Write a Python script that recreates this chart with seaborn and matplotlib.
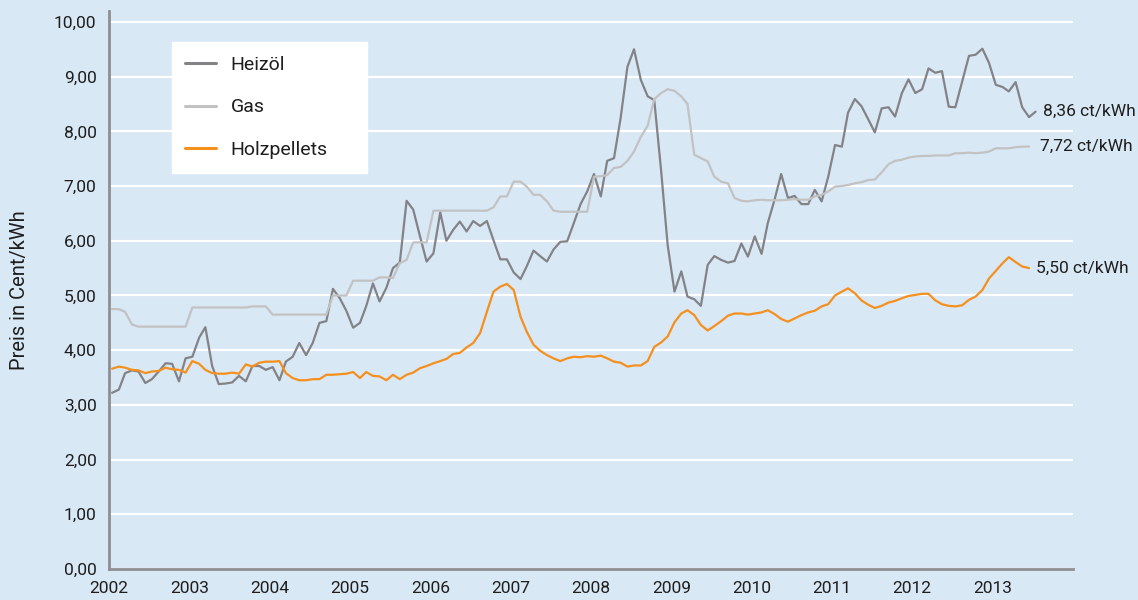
import numpy as np
import pandas as pd
import matplotlib
matplotlib.use("Agg")
import matplotlib.pyplot as plt
import seaborn as sns
from matplotlib.lines import Line2D

# ---------------- data (monthly, Jan 2002 onwards, ct/kWh) ----------------
heizoel = [3.22, 3.28, 3.58, 3.63, 3.61, 3.40, 3.47, 3.61, 3.76, 3.75, 3.43, 3.85,
           3.88, 4.23, 4.42, 3.71, 3.38, 3.39, 3.41, 3.53, 3.43, 3.71, 3.71, 3.64,
           3.69, 3.45, 3.79, 3.88, 4.13, 3.91, 4.13, 4.50, 4.53, 5.12, 4.95, 4.72,
           4.41, 4.50, 4.80, 5.22, 4.89, 5.14, 5.50, 5.60, 6.73, 6.57, 6.08, 5.62,
           5.77, 6.52, 6.00, 6.20, 6.35, 6.17, 6.36, 6.27, 6.36, 6.01, 5.66, 5.66,
           5.42, 5.30, 5.53, 5.82, 5.72, 5.62, 5.84, 5.98, 5.99, 6.32, 6.67, 6.90,
           7.22, 6.81, 7.46, 7.51, 8.24, 9.18, 9.50, 8.94, 8.64, 8.57, 7.29, 5.92,
           5.07, 5.44, 4.98, 4.93, 4.81, 5.56, 5.72, 5.65, 5.60, 5.63, 5.95, 5.71,
           6.08, 5.76, 6.32, 6.75, 7.22, 6.78, 6.82, 6.67, 6.67, 6.93, 6.72, 7.17,
           7.75, 7.72, 8.34, 8.59, 8.46, 8.22, 7.98, 8.42, 8.44, 8.27, 8.70, 8.95,
           8.70, 8.77, 9.15, 9.07, 9.10, 8.45, 8.44, 8.91, 9.38, 9.40, 9.51, 9.25,
           8.85, 8.81, 8.73, 8.90, 8.44, 8.26, 8.36]

gas = [4.75, 4.75, 4.70, 4.47, 4.43, 4.43, 4.43, 4.43, 4.43, 4.43, 4.43, 4.43,
       4.78, 4.78, 4.78, 4.78, 4.78, 4.78, 4.78, 4.78, 4.78, 4.80, 4.80, 4.80,
       4.65, 4.65, 4.65, 4.65, 4.65, 4.65, 4.65, 4.65, 4.65, 5.00, 5.00, 5.00,
       5.27, 5.27, 5.27, 5.27, 5.33, 5.33, 5.32, 5.59, 5.65, 5.97, 5.97, 5.97,
       6.55, 6.55, 6.55, 6.55, 6.55, 6.55, 6.55, 6.55, 6.55, 6.61, 6.81, 6.81,
       7.08, 7.08, 6.99, 6.84, 6.84, 6.72, 6.55, 6.53, 6.53, 6.53, 6.53, 6.53,
       7.17, 7.18, 7.20, 7.33, 7.35, 7.46, 7.63, 7.90, 8.10, 8.59, 8.70, 8.77,
       8.74, 8.64, 8.50, 7.57, 7.51, 7.45, 7.17, 7.08, 7.05, 6.78, 6.73, 6.72,
       6.74, 6.75, 6.74, 6.74, 6.74, 6.75, 6.76, 6.75, 6.75, 6.81, 6.84, 6.90,
       6.99, 7.00, 7.02, 7.05, 7.07, 7.11, 7.12, 7.25, 7.40, 7.46, 7.48, 7.52,
       7.54, 7.55, 7.55, 7.56, 7.56, 7.56, 7.60, 7.60, 7.61, 7.60, 7.61, 7.63,
       7.69, 7.69, 7.69, 7.71, 7.72, 7.72]

holzpellets = [3.66, 3.70, 3.68, 3.64, 3.63, 3.58, 3.61, 3.62, 3.68, 3.65, 3.64, 3.59,
               3.80, 3.75, 3.64, 3.58, 3.57, 3.57, 3.59, 3.57, 3.74, 3.70, 3.77, 3.79,
               3.79, 3.80, 3.58, 3.49, 3.45, 3.45, 3.47, 3.47, 3.55, 3.55, 3.56, 3.57,
               3.60, 3.49, 3.60, 3.53, 3.52, 3.45, 3.55, 3.47, 3.55, 3.59, 3.67, 3.71,
               3.76, 3.80, 3.84, 3.93, 3.95, 4.05, 4.13, 4.31, 4.70, 5.07, 5.16, 5.21,
               5.10, 4.61, 4.34, 4.10, 3.99, 3.91, 3.85, 3.80, 3.85, 3.88, 3.87, 3.89,
               3.88, 3.90, 3.85, 3.79, 3.77, 3.70, 3.72, 3.72, 3.80, 4.06, 4.14, 4.25,
               4.51, 4.67, 4.73, 4.64, 4.46, 4.36, 4.44, 4.53, 4.63, 4.67, 4.67, 4.65,
               4.67, 4.69, 4.73, 4.66, 4.57, 4.52, 4.58, 4.64, 4.69, 4.72, 4.80, 4.84,
               5.00, 5.07, 5.13, 5.04, 4.91, 4.83, 4.77, 4.81, 4.87, 4.90, 4.95, 4.99,
               5.01, 5.03, 5.03, 4.91, 4.84, 4.81, 4.80, 4.82, 4.92, 4.98, 5.10, 5.31,
               5.45, 5.59, 5.70, 5.61, 5.53, 5.50]

series_names = ["Heizöl", "Gas", "Holzpellets"]
end_labels = ["8,36 ct/kWh", "7,72 ct/kWh", "5,50 ct/kWh"]
year_ticks = list(range(2002, 2015))
year_labels = [str(y) for y in range(2002, 2014)] + [""]

colors = {"Heizöl": "#838387", "Gas": "#c2c2c2", "Holzpellets": "#f5901e"}
BG = "#d9e8f5"
AXIS = "#8f8f93"
TXT = "#1e1e1e"

# ---------------- long-form frame ----------------
frames = []
for name, vals in zip(series_names, [heizoel, gas, holzpellets]):
    dates = pd.date_range("2002-01-01", periods=len(vals), freq="MS") + pd.Timedelta(days=14)
    frames.append(pd.DataFrame({"Datum": dates, "Preis": vals, "Energie": name}))
df = pd.concat(frames, ignore_index=True)

sns.set_theme(style="white")
plt.rcParams["font.family"] = ["Roboto", "DejaVu Sans"]

fig = plt.figure(figsize=(11.38, 6.0), dpi=100, facecolor=BG)
ax = fig.add_axes([0.0958, 0.0517, 0.8471, 0.93])
ax.set_facecolor(BG)

ax.set_ylim(0, 10.2)
ax.set_yticks(np.arange(0, 11, 1))
ax.yaxis.grid(True, color="white", linewidth=1.6)
ax.xaxis.grid(False)
ax.set_axisbelow(True)

sns.lineplot(data=df, x="Datum", y="Preis", hue="Energie", hue_order=series_names,
             palette=colors, linewidth=1.6, ax=ax, legend=False)

ax.set_xlim(pd.Timestamp("2002-01-01"), pd.Timestamp("2014-01-01"))
ax.set_xticks([pd.Timestamp(f"{y}-01-01") for y in year_ticks])
ax.set_xticklabels(year_labels)
ax.set_yticklabels([f"{v},00" for v in range(0, 11)])

for s in ["top", "right"]:
    ax.spines[s].set_visible(False)
for s in ["left", "bottom"]:
    ax.spines[s].set_color(AXIS)
    ax.spines[s].set_linewidth(2.0)

ax.tick_params(axis="both", which="major", direction="out", length=4, width=1.6,
               color=AXIS, labelsize=12.5, labelcolor=TXT)
ax.tick_params(axis="y", pad=5)
ax.tick_params(axis="x", pad=5)

ax.set_xlabel("")
ax.set_ylabel("Preis in Cent/kWh", fontsize=14.5, color=TXT, labelpad=18)

# legend
handles = [Line2D([0], [0], color=colors[n], lw=2.2) for n in series_names]
leg = ax.legend(handles, series_names, loc="upper left",
                bbox_to_anchor=(0.065, 0.9444, 0.2023, 0.0), mode="expand",
                borderaxespad=0, frameon=True, fancybox=False, fontsize=14,
                handlelength=1.6, handletextpad=0.72, labelspacing=1.27,
                borderpad=0.7)
leg.get_frame().set_facecolor("white")
leg.get_frame().set_edgecolor("white")
leg.get_frame().set_alpha(1.0)
for t in leg.get_texts():
    t.set_color(TXT)

# end-of-line value labels
offsets = [5, 8, 5]
for name, vals, lab, off in zip(series_names, [heizoel, gas, holzpellets], end_labels, offsets):
    sub = df[df["Energie"] == name]
    ax.annotate(lab, xy=(sub["Datum"].iloc[-1], vals[-1]), xytext=(off, 0),
                textcoords="offset points", va="center", ha="left",
                fontsize=12.5, color=TXT, annotation_clip=False)

fig.savefig("out.png", dpi=100, facecolor=BG)
